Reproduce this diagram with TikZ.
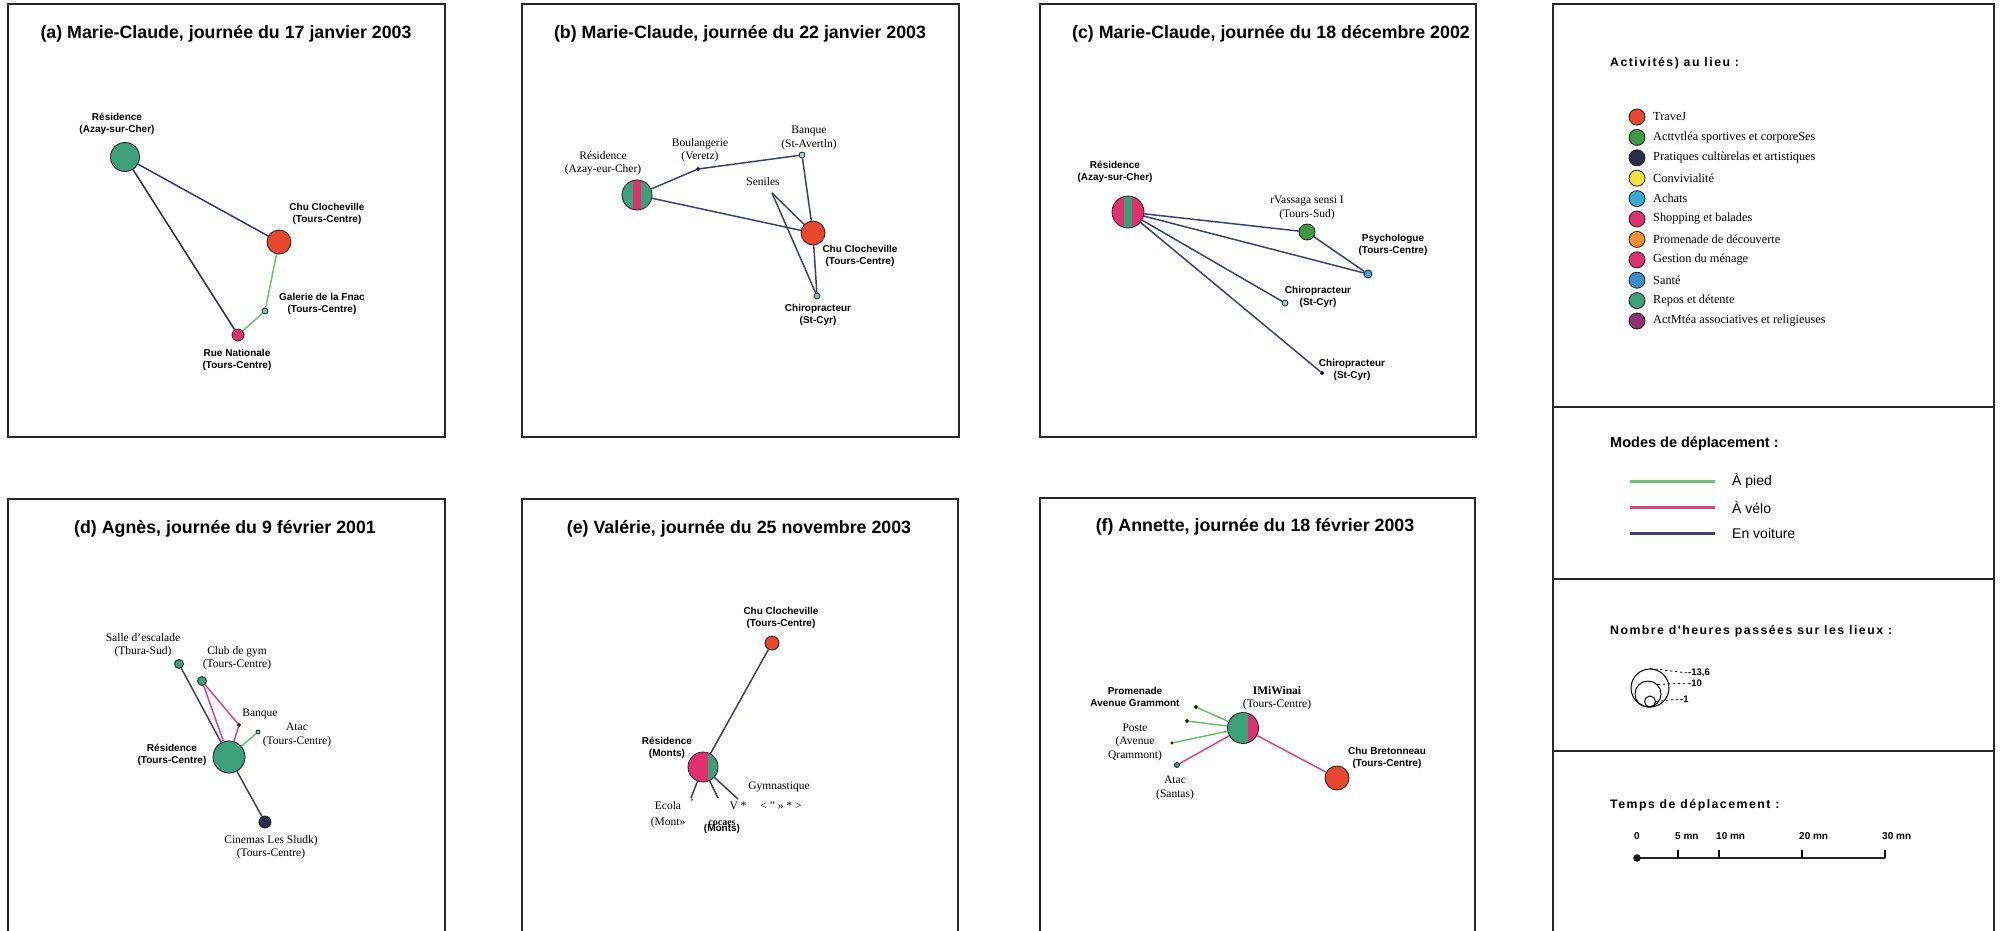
\documentclass[tikz,border=0pt]{standalone}
\usepackage{fontspec}
\setmainfont{Liberation Serif}
\setsansfont{Liberation Sans}
\newfontfamily\spacedsf[LetterSpace=12]{Liberation Sans}
\usetikzlibrary{positioning}

\definecolor{redc}{HTML}{E8472B}
\definecolor{tealc}{HTML}{3DA07C}
\definecolor{pinkc}{HTML}{E0306E}
\definecolor{greenc}{HTML}{3B9A40}
\definecolor{navyc}{HTML}{2C2C4A}
\definecolor{yellowc}{HTML}{F2E23C}
\definecolor{cyanc}{HTML}{3AA9D2}
\definecolor{orangec}{HTML}{F0922C}
\definecolor{bluec}{HTML}{3A8DC6}
\definecolor{purplec}{HTML}{8C3572}
\definecolor{carc}{HTML}{3D4170}
\definecolor{walkc}{HTML}{6CC070}
\definecolor{bikec}{HTML}{D9457F}

\begin{document}
\begin{tikzpicture}[
    x=1pt, y=-1pt,
    panel/.style={draw=black!85, line width=1.5pt},
    ttl/.style={font=\sffamily\bfseries\fontsize{17.8}{21}\selectfont, inner sep=0},
    slab/.style={font=\sffamily\bfseries\fontsize{10}{12.5}\selectfont, align=center, inner sep=0},
    rlab/.style={font=\fontsize{11.5}{13.5}\selectfont, align=center, inner sep=0},
    legtitle/.style={font=\spacedsf\bfseries\fontsize{12.3}{14}\selectfont, anchor=west, inner sep=0},
    place/.style={circle, draw=black!90, line width=0.8pt, inner sep=0, minimum size=#1},
    place/.default={6pt},
    car/.style={draw=carc, line width=1.5pt},
    walk/.style={draw=walkc, line width=1.5pt},
    bike/.style={draw=bikec, line width=1.5pt},
    vstripe/.style={path picture={\fill[#1]
        ([xshift=-4pt]path picture bounding box.south) rectangle
        ([xshift=4pt]path picture bounding box.north);}},
    rhalf/.style={path picture={\fill[#1]
        ([xshift=5pt]path picture bounding box.south) rectangle
        (path picture bounding box.north east);}}
]
\useasboundingbox (0,0) rectangle (2003,930);

% Frames
\draw[panel] (8,4) rectangle (445,437);
\draw[panel] (522,4) rectangle (959,437);
\draw[panel] (1040,4) rectangle (1476,437);
\draw[panel] (8,945) -- (8,499) -- (445,499) -- (445,945);
\draw[panel] (522,945) -- (522,499) -- (958,499) -- (958,945);
\draw[panel] (1040,945) -- (1040,498) -- (1475,498) -- (1475,945);
\draw[panel] (1553,945) -- (1553,4) -- (1994,4) -- (1994,945);
\draw[panel] (1553,407) -- (1994,407);
\draw[panel] (1553,579) -- (1994,579);
\draw[panel] (1553,751) -- (1994,751);

% Titles
\node[ttl] (titleA) at (226,34) {(a) Marie-Claude, journée du 17 janvier 2003};
\node[ttl] (titleB) at (740,34) {(b) Marie-Claude, journée du 22 janvier 2003};
\node[ttl] (titleC) at (1271,34) {(c) Marie-Claude, journée du 18 décembre 2002};
\node[ttl] (titleD) at (225,529) {(d) Agnès, journée du 9 février 2001};
\node[ttl] (titleE) at (739,529) {(e) Valérie, journée du 25 novembre 2003};
\node[ttl] (titleF) at (1255,527) {(f) Annette, journée du 18 février 2003};

% (a)
\node[place=29pt, fill=tealc] (resA) at (125,157) {};
\node[place=24pt, fill=redc] (chuA) at (279,242) {};
\node[place=6pt, fill=tealc!60] (fnacA) at (265,311) {};
\node[place=12pt, fill=pinkc] (rueA) at (238,335) {};
\draw[car, draw=carc!80!blue] (resA) -- (chuA);
\draw[car, draw=navyc] (resA) -- (rueA);
\draw[walk] (chuA) -- (fnacA);
\draw[walk] (fnacA) -- (rueA);
\node[slab] (resAlbl) at (117,124) {Résidence\\(Azay-sur-Cher)};
\node[slab] (chuAlbl) at (327,214) {Chu Clocheville\\(Tours-Centre)};
\node[slab] (fnacAlbl) at (322,304) {Galerie de la Fnac\\(Tours-Centre)};
\node[slab] (rueAlbl) at (237,360) {Rue Nationale\\(Tours-Centre)};

% (b)
\node[place=30pt, fill=tealc, vstripe=pinkc] (resB) at (637,195) {};
\node[place=3pt, fill=navyc] (boulB) at (698,169) {};
\node[place=6pt, fill=tealc!40] (banqB) at (802,155) {};
\coordinate (senB) at (772,193);
\node[place=24pt, fill=redc] (chuB) at (813,233) {};
\node[place=6pt, fill=tealc!60] (chiroB) at (817,296) {};
\draw[car] (resB) -- (boulB) -- (banqB);
\draw[car] (banqB) -- (chuB);
\draw[car] (chuB) -- (chiroB);
\draw[car] (resB) -- (chuB);
\draw[car] (senB) -- (chuB);
\draw[car] (senB) -- (chiroB);
\node[rlab] (resBlbl) at (603,163) {Résidence\\(Azay-eur-Cher)};
\node[rlab] (boulBlbl) at (700,150) {Boulangerie\\(Veretz)};
\node[rlab] (banqBlbl) at (809,138) {Banque\\(St-Avertln)};
\node[rlab] (senBlbl) at (763,182) {Seniles};
\node[slab] (chuBlbl) at (860,256) {Chu Clocheville\\(Tours-Centre)};
\node[slab] (chiroBlbl) at (818,315) {Chiropracteur\\(St-Cyr)};

% (c)
\node[place=32pt, fill=pinkc, vstripe=tealc] (resC) at (1128,212) {};
\node[place=16pt, fill=greenc] (passC) at (1307,232) {};
\node[place=8pt, fill=cyanc] (psyC) at (1368,274) {};
\node[place=6pt, fill=tealc!50] (chiroC) at (1285,303) {};
\node[place=3pt, fill=black] (chiroCC) at (1322,373) {};
\draw[car] (resC) -- (passC);
\draw[car] (passC) -- (psyC);
\draw[car] (resC) -- (psyC);
\draw[car] (resC) -- (chiroC);
\draw[car] (resC) -- (chiroCC);
\node[slab] (resClbl) at (1115,172) {Résidence\\(Azay-sur-Cher)};
\node[rlab] (passClbl) at (1307,208) {rVassaga sensi I\\(Tours-Sud)};
\node[slab] (psyClbl) at (1393,245) {Psychologue\\(Tours-Centre)};
\node[slab] (chiroClbl) at (1318,297) {Chiropracteur\\(St-Cyr)};
\node[slab] (chiroCClbl) at (1352,370) {Chiropracteur\\(St-Cyr)};

% (d)
\node[place=9pt, fill=tealc] (salleD) at (179,664) {};
\node[place=9pt, fill=tealc] (gymD) at (202,681) {};
\node[place=3pt, fill=navyc] (banqD) at (239,725) {};
\node[place=4pt, fill=tealc!50] (atacD) at (258,732) {};
\node[place=32pt, fill=tealc] (resD) at (229,757) {};
\node[place=12pt, fill=navyc] (cineD) at (265,822) {};
\draw[car, draw=navyc!90] (salleD) -- (resD);
\draw[bike] (gymD) -- (resD);
\draw[bike] (gymD) -- (banqD);
\draw[bike] (banqD) -- (resD);
\draw[walk] (atacD) -- (resD);
\draw[car, draw=navyc!90] (resD) -- (cineD);
\node[rlab] (salleDlbl) at (143,645) {Salle d'escalade\\(Tbura-Sud)};
\node[rlab] (gymDlbl) at (237,658) {Club de gym\\(Tours-Centre)};
\node[rlab] (banqDlbl) at (260,714) {Banque};
\node[rlab] (atacDlbl) at (297,735) {Atac\\(Tours-Centre)};
\node[slab] (resDlbl) at (172,755) {Résidence\\(Tours-Centre)};
\node[rlab] (cineDlbl) at (271,847) {Cinemas Les Sludk)\\(Tours-Centre)};

% (e)
\node[place=14pt, fill=redc] (chuE) at (772,643) {};
\node[place=30pt, fill=pinkc, rhalf=tealc] (resE) at (703,767) {};
\coordinate (ecoleE) at (691,798);
\coordinate (coursE) at (718,798);
\coordinate (gymE) at (738,799);
\draw[car, draw=navyc!90] (resE) -- (chuE);
\draw[car, draw=navyc!90] (resE) -- (ecoleE);
\draw[car, draw=navyc!90] (resE) -- (coursE);
\draw[car, draw=navyc!90] (resE) -- (gymE);
\node[slab] (chuElbl) at (781,618) {Chu Clocheville\\(Tours-Centre)};
\node[slab] (resElbl) at (667,748) {Résidence\\(Monts)};
\node[rlab] (gymElbl) at (779,787) {Gymnastique};
\node[rlab] (ecoleElbl) at (668,806) {Ecola};
\node[rlab] (montElbl) at (668,823) {(Mont»};
\node[rlab] (quoteElbl) at (692,803) {'};
\node[rlab] (vElbl) at (738,806) {V *};
\node[rlab] (anglElbl) at (781,806) {< " » * >};
\node[rlab, font=\bfseries\fontsize{10}{12}\selectfont] (cocaElbl) at (722,823) {cocaes};
\node[slab] (montsElbl) at (722,829) {(Monts)};

% (f)
\node[place=31pt, fill=tealc, rhalf=pinkc] (resF) at (1243,728) {};
\node[place=24pt, fill=redc] (chuF) at (1337,778) {};
\node[place=3pt, fill=black] (promF) at (1196,707) {};
\node[place=3pt, fill=black] (posteF) at (1187,721) {};
\node[place=2pt, fill=black] (pointF) at (1172,743) {};
\node[place=5pt, fill=tealc] (atacF) at (1177,765) {};
\draw[walk] (promF) -- (resF);
\draw[walk] (posteF) -- (resF);
\draw[walk] (pointF) -- (resF);
\draw[bike] (atacF) -- (resF);
\draw[bike] (resF) -- (chuF);
\node[slab] (promFlbl) at (1135,697) {Promenade\\Avenue Grammont};
\node[rlab] (resFlbl) at (1277,698) {\textbf{IMiWinai}\\(Tours-Centre)};
\node[rlab] (posteFlbl) at (1135,742) {Poste\\(Avenue\\Qrammont)};
\node[rlab] (atacFlbl) at (1175,788) {Atac\\(Santas)};
\node[slab] (chuFlbl) at (1387,758) {Chu Bretonneau\\(Tours-Centre)};

% Legend: activities
\node[legtitle] (actTitle) at (1610,63) {Activités) au lieu :};
\foreach \c/\t [count=\i] in {redc/TraveJ, greenc/Acttvtléa sportives et corporeSes,
    navyc/Pratiques cultùrelas et artistiques, yellowc/Convivialité, cyanc/Achats,
    pinkc/Shopping et balades, orangec/Promenade de découverte, pinkc/Gestion du ménage,
    bluec/Santé, tealc/Repos et détente, purplec/ActMtéa associatives et religieuses}{
  \node[place=16pt, fill=\c] (act\i) at (1637,{117+20.4*(\i-1)}) {};
  \node[rlab, font=\fontsize{12.3}{14}\selectfont, anchor=west] (actlbl\i)
      at (1653,{117+20.4*(\i-1)}) {\t};
}

% Legend: modes
\node[font=\sffamily\bfseries\fontsize{14.5}{17}\selectfont, anchor=west, inner sep=0]
    (modeTitle) at (1610,444) {Modes de déplacement :};
\foreach \s/\t/\y [count=\i] in {walk/À pied/481, bike/À vélo/507, car/En voiture/533}{
  \coordinate (modeA\i) at (1630,\y);
  \coordinate (modeB\i) at (1715,\y);
  \draw[\s, line width=3pt] (modeA\i) -- (modeB\i);
  \node[font=\sffamily\fontsize{14}{16}\selectfont, anchor=west, inner sep=0]
      (modelbl\i) at (1732,\y) {\t};
}

% Legend: hours
\node[legtitle] (hoursTitle) at (1610,631) {Nombre d'heures passées sur les lieux :};
\node[circle, draw, line width=1pt, inner sep=0, minimum size=38pt] (hBig) at (1650,688) {};
\node[circle, draw, line width=1pt, inner sep=0, minimum size=26pt] (hMid) at (1648,694) {};
\node[circle, draw, line width=1pt, inner sep=0, minimum size=11pt] (hSmall) at (1650,701.5) {};
\node[font=\sffamily\bfseries\fontsize{9.5}{11}\selectfont, anchor=west, inner sep=0]
    (hBiglbl) at (1688,673) {-13,6};
\node[font=\sffamily\bfseries\fontsize{9.5}{11}\selectfont, anchor=west, inner sep=0]
    (hMidlbl) at (1688,683) {-10};
\node[font=\sffamily\bfseries\fontsize{9.5}{11}\selectfont, anchor=west, inner sep=0]
    (hSmalllbl) at (1680,699) {-1};
\draw[dashed, line width=0.8pt, dash pattern=on 2.5pt off 2.5pt] (hBig.north) -- (hBiglbl.west);
\draw[dashed, line width=0.8pt, dash pattern=on 2.5pt off 2.5pt] (hMid.north east) -- (hMidlbl.west);
\draw[dashed, line width=0.8pt, dash pattern=on 2.5pt off 2.5pt] (hSmall.east) -- (hSmalllbl.west);

% Legend: travel time
\node[legtitle] (timeTitle) at (1610,805) {Temps de déplacement :};
\coordinate (t0) at (1637,858);
\coordinate (t30) at (1885,858);
\draw[line width=2.8pt, draw=black!85] (t0) -- (t30);
\fill[black!90] (t0) circle (3.8pt);
\foreach \x/\t in {1678/5 mn, 1719/10 mn, 1802/20 mn, 1885/30 mn}{
  \draw[line width=1.2pt] (\x,858) -- (\x,850);
  \node[font=\sffamily\bfseries\fontsize{10}{12}\selectfont, anchor=south west, inner sep=0]
      (tlbl\x) at (\x-3,840) {\t};
}
\node[font=\sffamily\bfseries\fontsize{10}{12}\selectfont, anchor=south, inner sep=0]
    (tlbl0) at (1637,840) {0};

\end{tikzpicture}
\end{document}
